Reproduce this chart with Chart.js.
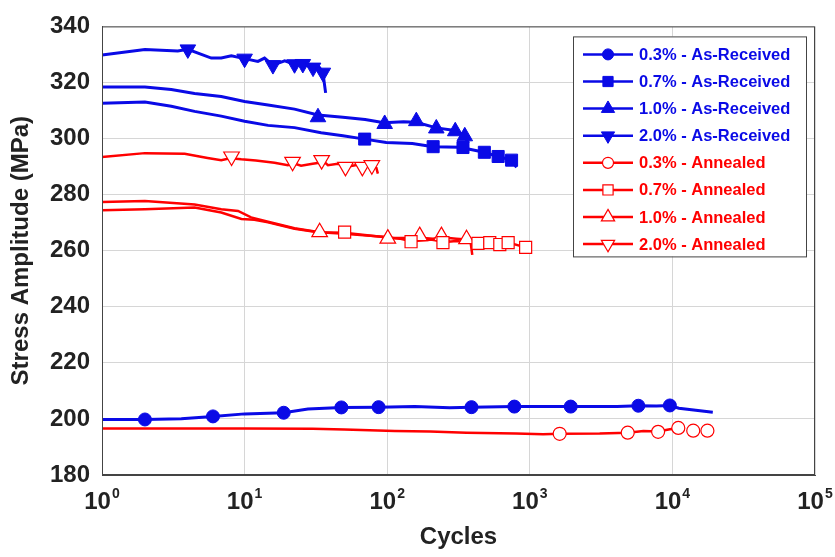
<!DOCTYPE html>
<html>
<head>
<meta charset="utf-8">
<script src="https://cdn.jsdelivr.net/npm/chart.js@4/dist/chart.umd.min.js"></script>
<style>
  html, body { margin: 0; padding: 0; background: #fff; }
  #wrap { width: 835px; height: 557px; }
</style>
</head>
<body>
<div id="wrap"><canvas id="stressChart" width="835" height="557"></canvas></div>
<script>
// [cycles, stress amplitude in MPa]
const ar03Line = [[1,199.8],[2,199.8],[3.6,200.1],[6,200.9],[10,201.8],[18.8,202.2],[27.8,203.5],[47.7,204.1],[87,204.2],[156,204.4],[274,204.0],[390,204.2],[779,204.4],[1936,204.4],[4095,204.4],[5770,204.7],[7740,204.6],[9600,204.8],[11100,203.8],[19200,202.4]];
const ar03Marks = [[2,199.8],[6,200.9],[18.8,202.2],[47.7,204.1],[87,204.2],[390,204.2],[779,204.4],[1936,204.4],[5770,204.7],[9600,204.8]];

const ar07Line = [[1,312.6],[2,313.0],[3.06,311.5],[4.46,309.7],[6.86,308.0],[10,306.2],[14.6,304.7],[22.4,303.9],[34.4,302.1],[48.9,301.0],[69.5,299.8],[98.5,298.6],[150,298.2],[210,297.1],[323,296.9],[470,295.2],[615,293.4],[745,292.3],[807,289.7]];
const ar07Marks = [[69.5,299.8],[210,297.1],[340,296.8],[480,295.1],[600,293.6],[745,292.3]];

const ar10Line = [[1,318.4],[2,318.4],[3.06,317.5],[4.46,316.1],[6.86,315.0],[10,313.2],[14.6,312.0],[22.4,310.5],[32.7,308.4],[48.9,307.6],[70,306.8],[95,305.6],[130,306.0],[160,305.8],[221,303.8],[290,303.0],[340,301.5],[360,299.5],[372,298.4]];
const ar10Marks = [[32.7,307.6],[96,305.2],[160,306.2],[221,303.6],[300,302.6],[350,300.8]];

const ar20Line = [[1,329.8],[2,331.8],[3.4,331.2],[4,331.8],[5.84,328.7],[6.86,328.7],[8.07,329.5],[10,328.5],[12.4,327.5],[13.8,328.7],[15.8,326.2],[19.1,327.7],[22.4,326.5],[25.6,326.6],[30.2,325.3],[33,325.8],[35.4,323.5],[37,316.3]];
const ar20Marks = [[4,331.8],[10,328.5],[15.8,326.2],[22.4,326.5],[25.6,326.6],[30.2,325.3],[35.4,323.5]];

const an03Line = [[1,196.6],[10,196.6],[30,196.5],[50,196.2],[113,195.7],[200,195.5],[360,195.1],[800,194.8],[1240,194.5],[1620,194.7],[3090,194.8],[4860,195.1],[6260,195.7],[7940,195.5],[9600,196.3],[11000,196.6]];
const an03Marks = [[1620,194.7],[4860,195.1],[7940,195.4],[11000,196.8],[14000,195.8],[17600,195.8]];

const an07Line = [[1,274.4],[2,274.8],[4.46,275.4],[6.86,273.6],[9.5,271.3],[11.7,271.0],[14.6,270.1],[22.4,267.8],[32.7,266.6],[50,266.4],[93.5,264.9],[122,264.3],[147,263.4],[210,264.0],[246,263.0],[305,263.5],[433,262.6],[524,262.9],[616,262.2],[705,262.9],[935,261.2]];
const an07Marks = [[50.3,266.6],[147,263.2],[246,262.9],[433,262.6],[524,262.9],[616,262.2],[705,262.9],[935,261.2]];

const an10Line = [[1,277.4],[2,277.7],[4.46,276.5],[6.86,274.8],[9,274.2],[11.1,271.9],[14.6,270.3],[22.4,268.0],[33.6,266.6],[50,266.0],[93.5,265.0],[101,264.5],[122,264.5],[169,264.6],[210,264.3],[240,264.8],[305,264.3],[360,264.0],[385,262.8],[395,258.5]];
const an10Marks = [[33.6,266.6],[101,264.3],[169,265.2],[240,265.2],[360,264.1]];

const an20Line = [[1,293.4],[2,294.8],[3.8,294.6],[5.5,293.1],[6.86,292.3],[7.9,293.0],[9.47,292.6],[12,292.2],[16.2,291.4],[20.1,290.5],[22,291.2],[24.9,290.3],[30,291.0],[36.3,291.6],[38.4,290.5],[45,291.0],[56,290.2],[65,290.8],[75,290.0],[84,289.5],[86,287.5]];
const an20Marks = [[8.1,293.6],[21.7,291.7],[34.7,292.3],[51,289.9],[67,289.9],[78,290.5]];

const xDecades = [1, 10, 100, 1000, 10000, 100000];

const BLUE = '#0a0ae6';
const RED = '#ff0000';
const FONT = "'Liberation Sans', Arial, sans-serif";

const series = [
  { label: '0.3% - As-Received', line: ar03Line, marks: ar03Marks, color: BLUE, style: 'circle', rot: 0, r: 6.5, filled: true },
  { label: '0.7% - As-Received', line: ar07Line, marks: ar07Marks, color: BLUE, style: 'rect', rot: 0, r: 8.5, filled: true },
  { label: '1.0% - As-Received', line: ar10Line, marks: ar10Marks, color: BLUE, style: 'triangle', rot: 0, r: 9, filled: true },
  { label: '2.0% - As-Received', line: ar20Line, marks: ar20Marks, color: BLUE, style: 'triangle', rot: 180, r: 9, filled: true },
  { label: '0.3% - Annealed', line: an03Line, marks: an03Marks, color: RED, style: 'circle', rot: 0, r: 6.5, filled: false },
  { label: '0.7% - Annealed', line: an07Line, marks: an07Marks, color: RED, style: 'rect', rot: 0, r: 8.5, filled: false },
  { label: '1.0% - Annealed', line: an10Line, marks: an10Marks, color: RED, style: 'triangle', rot: 0, r: 9, filled: false },
  { label: '2.0% - Annealed', line: an20Line, marks: an20Marks, color: RED, style: 'triangle', rot: 180, r: 9, filled: false }
];

const toXY = pts => pts.map(p => ({ x: p[0], y: p[1] }));

const datasets = [];
series.forEach(s => {
  datasets.push({
    label: s.label,
    data: toXY(s.line),
    borderColor: s.color,
    borderWidth: s.filled ? 3 : 2.5,
    pointRadius: 0,
    tension: 0,
    order: 2
  });
  datasets.push({
    label: s.label + ' marks',
    data: toXY(s.marks),
    showLine: false,
    pointStyle: s.style,
    pointRotation: s.rot,
    pointRadius: s.r,
    pointBackgroundColor: s.filled ? s.color : '#fff',
    pointBorderColor: s.color,
    pointBorderWidth: s.filled ? 1 : 1.2,
    order: 1
  });
});

// frame around the plot, like a boxed axes
const frame = {
  id: 'frame',
  afterDraw(chart) {
    const { ctx, chartArea: a } = chart;
    ctx.save();
    ctx.strokeStyle = '#444';
    ctx.lineWidth = 1;
    ctx.strokeRect(a.left + 0.5, a.top + 0.5, a.right - a.left - 1, a.bottom - a.top - 1);
    ctx.restore();
  }
};

// x tick labels written as 10 with a raised exponent
const powerTicks = {
  id: 'powerTicks',
  afterDraw(chart) {
    const { ctx, chartArea: a } = chart;
    const sx = chart.scales.x;
    ctx.save();
    ctx.fillStyle = '#222';
    ctx.textBaseline = 'alphabetic';
    ctx.textAlign = 'left';
    sx.ticks.forEach(t => {
      const px = sx.getPixelForValue(t.value);
      const exp = String(Math.round(Math.log10(t.value)));
      ctx.font = 'bold 24px ' + FONT;
      const bw = ctx.measureText('10').width;
      ctx.font = 'bold 14px ' + FONT;
      const ew = ctx.measureText(exp).width;
      const x0 = px - (bw + ew + 1) / 2;
      const base = a.bottom + 34;
      ctx.font = 'bold 24px ' + FONT;
      ctx.fillText('10', x0, base);
      ctx.font = 'bold 14px ' + FONT;
      ctx.fillText(exp, x0 + bw + 1, base - 11);
    });
    ctx.restore();
  }
};

// boxed legend in the top right corner of the plot
const legendBox = {
  id: 'legendBox',
  afterDraw(chart) {
    const { ctx, chartArea: a } = chart;
    const left = a.right - 242, top = a.top + 10, w = 233, h = 220;
    const rowH = 27.1;
    ctx.save();
    ctx.fillStyle = '#fff';
    ctx.fillRect(left, top, w, h);
    ctx.strokeStyle = '#444';
    ctx.lineWidth = 1;
    ctx.strokeRect(left + 0.5, top + 0.5, w, h);
    series.forEach((s, i) => {
      const y = top + 18 + i * rowH;
      ctx.strokeStyle = s.color;
      ctx.lineWidth = 2.5;
      ctx.beginPath();
      ctx.moveTo(left + 10, y);
      ctx.lineTo(left + 60, y);
      ctx.stroke();
      ctx.fillStyle = s.filled ? s.color : '#fff';
      ctx.lineWidth = s.filled ? 1 : 1.2;
      Chart.helpers.drawPoint(ctx, { pointStyle: s.style, radius: s.r * 0.85, rotation: s.rot, borderWidth: ctx.lineWidth }, left + 35, y);
      ctx.fillStyle = s.color;
      ctx.font = 'bold 16.5px ' + FONT;
      ctx.textBaseline = 'middle';
      ctx.textAlign = 'left';
      ctx.fillText(s.label, left + 66, y + 1);
    });
    ctx.restore();
  }
};

new Chart(document.getElementById('stressChart'), {
  type: 'line',
  data: { datasets },
  plugins: [frame, powerTicks, legendBox],
  options: {
    responsive: false,
    animation: false,
    layout: { padding: { top: 16, right: 20, left: 0, bottom: 0 } },
    plugins: { legend: { display: false }, tooltip: { enabled: false } },
    scales: {
      x: {
        type: 'logarithmic',
        min: 1,
        max: 100000,
        afterBuildTicks(s) { s.ticks = xDecades.map(v => ({ value: v })); },
        ticks: { display: false },
        grid: { color: '#d6d6d6', drawTicks: false },
        border: { color: '#444' },
        title: { display: true, text: 'Cycles', color: '#222', font: { family: FONT, size: 24, weight: 'bold' }, padding: { top: 0, bottom: 5 } },
        afterFit(s) { s.height = 82; }
      },
      y: {
        type: 'linear',
        min: 180,
        max: 340,
        ticks: { stepSize: 20, padding: 12, color: '#222', font: { family: FONT, size: 24, weight: 'bold' } },
        grid: { color: '#d6d6d6', drawTicks: false },
        border: { color: '#444' },
        title: { display: true, text: 'Stress Amplitude (MPa)', color: '#222', font: { family: FONT, size: 24, weight: 'bold' }, padding: { top: 7, bottom: 0 } },
        afterFit(s) { s.width = 102; }
      }
    }
  }
});
</script>
</body>
</html>
